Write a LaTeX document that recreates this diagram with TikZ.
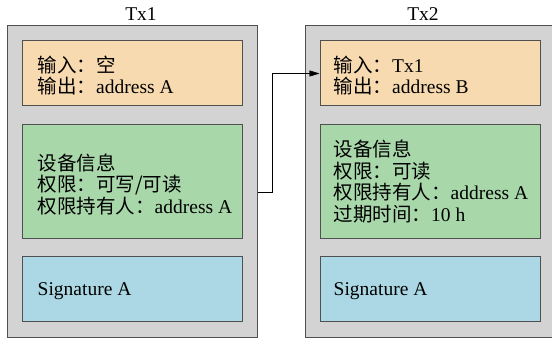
\documentclass[tikz,border=0pt]{standalone}
\usepackage{fontspec}
\setmainfont{Liberation Serif}
\newfontfamily\cjk{Noto Sans CJK SC}
\newcommand{\zh}[1]{{\cjk #1}}
\usepackage{tikz}
\usetikzlibrary{arrows,arrows.meta}
\definecolor{txgray}{RGB}{212,211,212}
\definecolor{txorange}{RGB}{248,218,176}
\definecolor{txgreen}{RGB}{168,215,170}
\definecolor{txblue}{RGB}{171,216,228}
\definecolor{txline}{RGB}{80,80,80}

\begin{document}
\begin{tikzpicture}[x=1pt, y=-1pt,
	txbox/.style = {draw=txline, line width=1pt, fill=txgray, minimum width=250pt, minimum height=311pt, inner sep=0pt},
	field/.style = {draw=txline, line width=1pt, minimum width=220pt, minimum height=65pt, inner sep=0pt},
	entry/.style = {anchor=west, align=left, inner sep=0pt},
	every node/.style = {font=\fontsize{19.5}{21.5}\selectfont}]
	\useasboundingbox (0,0) rectangle (552,342);
	\node[txbox] (tx1) at (132,181.5) {};
	\node[txbox] (tx2) at (430,181.5) {};
	\node (t1) at (141,14) {Tx1};
	\node (t2) at (423,14) {Tx2};
%
	\node[field, fill=txorange] (io1) at (132,73.5) {};
	\node[field, fill=txgreen, minimum height=113pt] (dev1) at (132,181.5) {};
	\node[field, fill=txblue] (sig1) at (132,289) {};
	\node[entry] (io1t) at ([xshift=16pt, yshift=-2pt]io1.west) {\zh{输入：空}\\\zh{输出：}address A};
	\node[entry] (dev1t) at ([xshift=16pt, yshift=-3pt]dev1.west) {\zh{设备信息}\\\zh{权限：可写/可读}\\\zh{权限持有人：}address A};
	\node[entry] (sig1t) at ([xshift=16pt, yshift=-2pt]sig1.west) {Signature A};
%
	\node[field, fill=txorange] (io2) at (430,73.5) {};
	\node[field, fill=txgreen, minimum height=113pt] (dev2) at (430,181.5) {};
	\node[field, fill=txblue] (sig2) at (430,289) {};
	\node[entry] (io2t) at ([xshift=14pt, yshift=-2pt]io2.west) {\zh{输入：}Tx1\\\zh{输出：}address B};
	\node[entry] (dev2t) at ([xshift=14pt]dev2.west) {\zh{设备信息}\\\zh{权限：可读}\\\zh{权限持有人：}address A\\\zh{过期时间：}10 h};
	\node[entry] (sig2t) at ([xshift=14pt, yshift=-2pt]sig2.west) {Signature A};
%
	\draw[-{Triangle[length=10pt,width=6pt]}, thin] ([yshift=-11pt]tx1.east) -- ++(15,0) |- (io2.west);
\end{tikzpicture}
\end{document}
